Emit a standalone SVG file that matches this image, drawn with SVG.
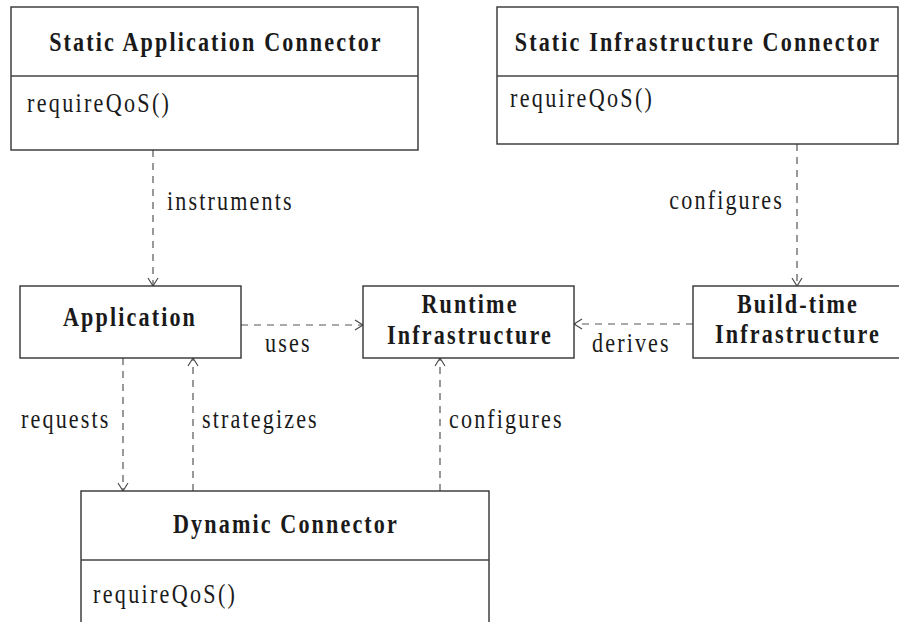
<svg xmlns="http://www.w3.org/2000/svg" width="899" height="622" viewBox="0 0 899 622">
  <style>
    .box { fill: #ffffff; stroke: #333333; stroke-width: 1.4; }
    .div { stroke: #444444; stroke-width: 1.4; }
    text { font-family: "Liberation Serif", "Times New Roman", serif; font-size: 27px; fill: #1a1a1a; }
    .title { font-size: 28px; font-weight: bold; letter-spacing: 2.7px; text-anchor: middle; }
    .op { letter-spacing: 2.8px; }
    .lbl { letter-spacing: 2.6px; }
    .end { text-anchor: end; }
    .dep { fill: none; stroke: #555555; stroke-width: 1.2; stroke-dasharray: 7 6; marker-end: url(#open); }
  </style>
  <defs>
    <marker id="open" viewBox="0 0 10 12" refX="9" refY="6" markerWidth="10" markerHeight="12" markerUnits="userSpaceOnUse" orient="auto">
      <path d="M1,1 L9,6 L1,11" fill="none" stroke="#444444" stroke-width="1.1"/>
    </marker>
  </defs>

  <rect width="899" height="622" fill="#ffffff"/>

  <!-- dependency arrows; text is drawn narrow via a horizontal scale -->
  <g id="connectors">
    <path class="dep" d="M153,150 V286"/>
    <path class="dep" d="M797,144 V286"/>
    <path class="dep" d="M241,325 H363"/>
    <path class="dep" d="M693,324 H574"/>
    <path class="dep" d="M123,358 V491"/>
    <path class="dep" d="M193,491 V358"/>
    <path class="dep" d="M440,491 V358"/>
    <text class="lbl" transform="translate(167,210) scale(0.82,1)">instruments</text>
    <text class="lbl end" transform="translate(784,209) scale(0.82,1)">configures</text>
    <text class="lbl" transform="translate(265,352) scale(0.82,1)">uses</text>
    <text class="lbl" transform="translate(592,352) scale(0.82,1)">derives</text>
    <text class="lbl" transform="translate(21,428) scale(0.82,1)">requests</text>
    <text class="lbl" transform="translate(202,428) scale(0.82,1)">strategizes</text>
    <text class="lbl" transform="translate(449,428) scale(0.82,1)">configures</text>
  </g>

  <g id="static-application-connector">
    <rect class="box" x="11" y="7" width="407" height="143"/>
    <line class="div" x1="11" y1="76" x2="418" y2="76"/>
    <text class="title" transform="translate(216,51) scale(0.79,1)">Static Application Connector</text>
    <text class="op" transform="translate(27,112) scale(0.82,1)">requireQoS()</text>
  </g>

  <g id="static-infrastructure-connector">
    <rect class="box" x="497" y="7" width="401" height="137"/>
    <line class="div" x1="497" y1="76" x2="898" y2="76"/>
    <text class="title" transform="translate(698,51) scale(0.79,1)">Static Infrastructure Connector</text>
    <text class="op" transform="translate(510,107) scale(0.82,1)">requireQoS()</text>
  </g>

  <g id="application">
    <rect class="box" x="20" y="286" width="221" height="72"/>
    <text class="title" transform="translate(130,326) scale(0.79,1)">Application</text>
  </g>

  <g id="runtime-infrastructure">
    <rect class="box" x="363" y="286" width="211" height="72"/>
    <text class="title" transform="translate(470,313) scale(0.79,1)">Runtime</text>
    <text class="title" transform="translate(470,344) scale(0.79,1)">Infrastructure</text>
  </g>

  <g id="build-time-infrastructure">
    <rect class="box" x="693" y="286" width="210" height="72"/>
    <text class="title" transform="translate(798,313) scale(0.79,1)">Build-time</text>
    <text class="title" transform="translate(798,343) scale(0.79,1)">Infrastructure</text>
  </g>

  <g id="dynamic-connector">
    <rect class="box" x="81" y="491" width="408" height="140"/>
    <line class="div" x1="81" y1="560" x2="489" y2="560"/>
    <text class="title" transform="translate(286,533) scale(0.79,1)">Dynamic Connector</text>
    <text class="op" transform="translate(93,603) scale(0.82,1)">requireQoS()</text>
  </g>
</svg>
